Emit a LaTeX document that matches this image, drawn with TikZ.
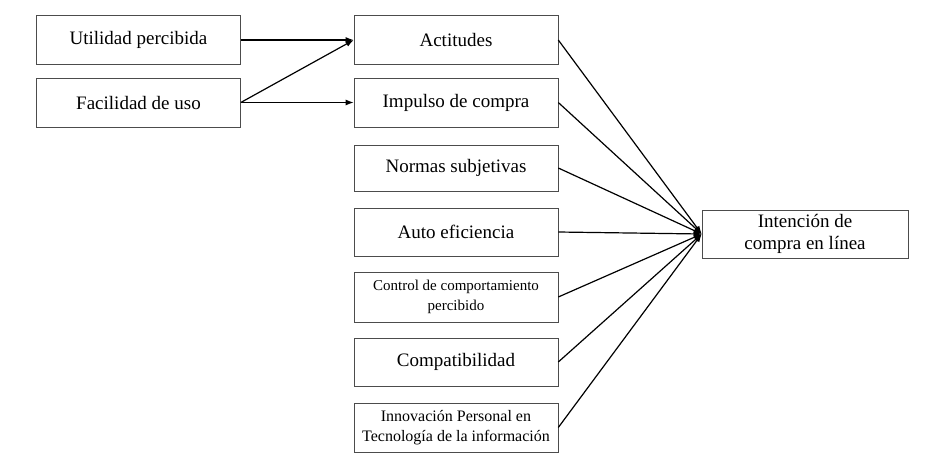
\documentclass[tikz,border=0pt]{standalone}
\usepackage{fontspec}
\setmainfont{Liberation Serif}
\usetikzlibrary{arrows.meta}
\begin{document}
\begin{tikzpicture}[x=1pt,y=-1pt,
 bx/.style={draw=black!70,line width=0.6pt,minimum width=204pt,minimum height=49pt,inner sep=1pt,align=center,font=\fontsize{19}{22}\selectfont},
 ar/.style={-{Latex[length=8pt,width=6pt]},line width=1.2pt}]
\useasboundingbox (0,0) rectangle (946,461);
\node[bx] (u) at (138.5,40) {Utilidad percibida};
\node[bx] (f) at (138.5,102.5) {Facilidad de uso};
\node[bx] (a) at (456,40) {Actitudes};
\node[bx] (i) at (456,102.5) {Impulso de compra};
\node[bx,minimum height=46pt] (n) at (456,168) {Normas subjetivas};
\node[bx,minimum height=48pt] (e) at (456,232) {Auto eficiencia};
\node[bx,minimum height=50pt,font=\fontsize{15}{20}\selectfont] (c) at (456,297) {Control de comportamiento\\percibido};
\node[bx,minimum height=48pt] (p) at (456,362) {Compatibilidad};
\node[bx,minimum height=49pt,font=\fontsize{16}{20}\selectfont] (t) at (456,427.5) {Innovación Personal en\\Tecnología de la información};
\node[bx,minimum width=206pt,minimum height=48pt] (o) at (805,234) {Intención de\\compra en línea};
\coordinate (oi) at (o.west);
\draw[ar] (u.east) -- (a.west);
\draw[ar] (f.east) -- (a.west);
\draw[ar] (f.east) -- (i.west);
\foreach \k in {a,i,n,e,c,p,t} \draw[ar] (\k.east) -- (oi);
\end{tikzpicture}
\end{document}
